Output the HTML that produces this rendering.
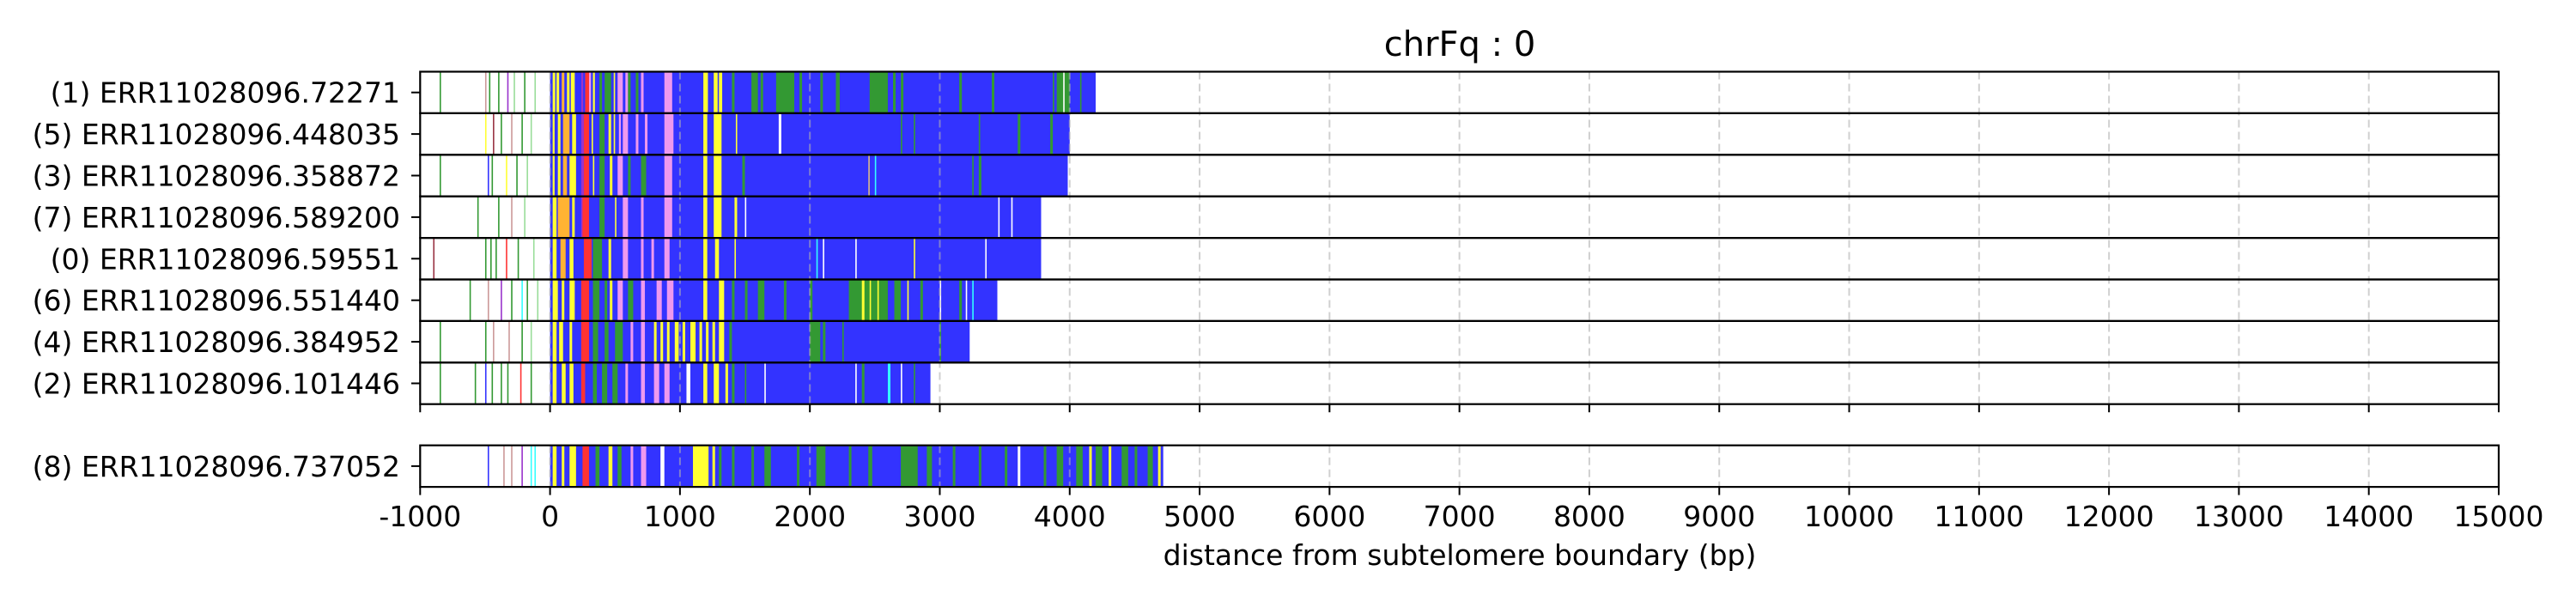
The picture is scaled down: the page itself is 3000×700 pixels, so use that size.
<!DOCTYPE html>
<html><head><meta charset="utf-8"><style>
html,body{margin:0;padding:0;background:#fff;}
svg{display:block;font-family:"DejaVu Sans","Liberation Sans",sans-serif;}
</style></head><body>
<svg id="chart" width="3000" height="700" viewBox="0 0 3000 700" xmlns="http://www.w3.org/2000/svg">
<text x="1700" y="65" font-size="40" text-anchor="middle">chrFq : 0</text>
<text x="1700" y="658" font-size="33" text-anchor="middle">distance from subtelomere boundary (bp)</text>
<g id="marks"></g>
</svg>
<script>
const rowLabels = ["(1) ERR11028096.72271","(5) ERR11028096.448035","(3) ERR11028096.358872","(7) ERR11028096.589200","(0) ERR11028096.59551","(6) ERR11028096.551440","(4) ERR11028096.384952","(2) ERR11028096.101446"];
const rowEnds = [4200,4000,3985,3780,3780,3443,3230,2928];
const soloLabel = "(8) ERR11028096.737052";
const soloEnd = 4720;
const xTicks = [-1000,0,1000,2000,3000,4000,5000,6000,7000,8000,9000,10000,11000,12000,13000,14000,15000];
const gridVals = [0,1000,2000,3000,4000,5000,6000,7000,8000,9000,10000,11000,12000,13000,14000];
const palette = {B:"#3333ff",G:"#339933",Y:"#ffff33",O:"#ffb333",R:"#ff3333",P:"#ee99ee",C:"#33ffff",M:"#9933cc",W:"#ffffff",L:"#99dd99",K:"#cc9999",T:"#ddbb88",D:"#993344"};
const pre1=[[-850,"G"],[-500,"K"],[-470,"G"],[-400,"G"],[-330,"M"],[-280,"L"],[-200,"G"],[-120,"L"]];
const pre5=[[-500,"Y"],[-440,"D"],[-380,"G"],[-300,"K"],[-220,"G"],[-150,"L"]];
const pre3=[[-850,"G"],[-480,"B"],[-450,"G"],[-340,"Y"],[-260,"G"],[-180,"L"]];
const pre7=[[-560,"G"],[-400,"G"],[-300,"K"],[-200,"L"]];
const pre0=[[-900,"D"],[-500,"G"],[-460,"G"],[-420,"G"],[-340,"R"],[-250,"G"],[-130,"L"]];
const pre6=[[-620,"G"],[-480,"K"],[-380,"M"],[-300,"G"],[-220,"C"],[-180,"G"],[-100,"L"]];
const pre4=[[-850,"G"],[-500,"G"],[-440,"K"],[-320,"K"],[-220,"G"],[-150,"L"]];
const pre2=[[-850,"G"],[-580,"G"],[-500,"B"],[-450,"G"],[-380,"G"],[-330,"G"],[-230,"R"],[-150,"G"]];
const pre8=[[-480,"B"],[-360,"K"],[-300,"K"],[-220,"M"],[-150,"C"],[-120,"C"]];
const seg1=[[20,40,"Y"],[50,70,"Y"],[90,110,"O"],[130,150,"Y"],[160,190,"Y"],[240,255,"M"],[270,300,"R"],[300,315,"P"],[330,345,"Y"],[380,400,"G"],[420,470,"G"],[490,500,"Y"],[520,560,"P"],[580,600,"P"],[600,620,"G"],[660,680,"G"],[700,720,"P"],[880,940,"P"],[1180,1215,"Y"],[1260,1290,"Y"],[1300,1325,"Y"],[1400,1420,"G"],[1550,1600,"G"],[1620,1640,"G"],[1740,1880,"G"],[1920,1940,"G"],[2080,2100,"G"],[2200,2230,"G"],[2460,2600,"G"],[2640,2660,"G"],[2700,2720,"G"],[3150,3170,"G"],[3400,3420,"G"],[3870,3880,"G"],[3900,4000,"G"],[3950,3960,"W"],[4080,4090,"G"]];
const seg5=[[20,35,"Y"],[60,80,"Y"],[100,150,"O"],[170,200,"Y"],[240,260,"M"],[260,300,"R"],[320,330,"Y"],[380,420,"G"],[450,470,"Y"],[490,500,"Y"],[530,545,"P"],[560,600,"P"],[660,680,"P"],[730,750,"P"],[880,950,"P"],[1180,1210,"Y"],[1260,1320,"Y"],[1430,1440,"Y"],[1760,1780,"W"],[2700,2710,"G"],[2800,2810,"G"],[3300,3310,"G"],[3600,3620,"G"],[3850,3870,"G"]];
const seg3=[[20,35,"Y"],[60,80,"Y"],[100,130,"O"],[150,200,"Y"],[240,260,"M"],[260,300,"R"],[330,340,"Y"],[380,420,"G"],[460,480,"Y"],[520,560,"P"],[600,620,"G"],[700,740,"G"],[880,940,"P"],[1180,1210,"Y"],[1260,1320,"Y"],[1480,1500,"G"],[2450,2460,"T"],[2500,2510,"C"],[3250,3260,"G"],[3300,3320,"G"]];
const seg7=[[20,50,"Y"],[60,150,"O"],[170,190,"Y"],[240,270,"M"],[250,300,"R"],[380,420,"G"],[500,510,"Y"],[560,600,"P"],[700,720,"P"],[880,940,"P"],[1180,1210,"Y"],[1260,1320,"Y"],[1420,1440,"Y"],[1500,1510,"W"],[3450,3460,"W"],[3550,3560,"W"]];
const seg0=[[20,50,"Y"],[80,120,"O"],[150,180,"Y"],[260,320,"R"],[330,400,"G"],[450,470,"Y"],[560,600,"P"],[700,720,"P"],[780,800,"P"],[880,920,"P"],[1180,1210,"Y"],[1270,1300,"Y"],[1420,1430,"Y"],[2050,2060,"C"],[2100,2110,"W"],[2350,2360,"W"],[2800,2810,"Y"],[3350,3360,"W"]];
const seg6=[[20,60,"Y"],[90,110,"Y"],[150,190,"Y"],[240,300,"R"],[330,380,"G"],[420,440,"G"],[460,480,"Y"],[520,560,"P"],[600,640,"G"],[700,730,"P"],[820,860,"P"],[900,950,"P"],[1180,1210,"Y"],[1300,1340,"Y"],[1400,1420,"G"],[1500,1520,"G"],[1600,1650,"G"],[1800,1820,"G"],[2000,2020,"G"],[2300,2600,"G"],[2400,2420,"Y"],[2460,2470,"Y"],[2520,2530,"Y"],[2650,2700,"G"],[2750,2760,"Y"],[2850,2870,"G"],[3000,3010,"W"],[3150,3170,"G"],[3200,3210,"W"],[3250,3260,"C"]];
const seg4=[[20,50,"Y"],[70,100,"Y"],[150,170,"Y"],[240,300,"R"],[330,370,"G"],[420,450,"G"],[500,560,"G"],[620,640,"P"],[700,730,"P"],[800,820,"Y"],[850,870,"Y"],[900,920,"Y"],[960,990,"Y"],[1020,1040,"Y"],[1080,1120,"Y"],[1150,1170,"Y"],[1200,1220,"Y"],[1250,1270,"Y"],[1300,1340,"Y"],[1380,1400,"G"],[2000,2080,"G"],[2100,2120,"G"],[2250,2260,"G"],[3000,3010,"G"]];
const seg2=[[20,50,"Y"],[90,120,"Y"],[150,180,"Y"],[240,270,"R"],[330,360,"G"],[400,440,"G"],[480,520,"G"],[580,600,"P"],[700,730,"P"],[800,840,"P"],[880,920,"P"],[1050,1080,"W"],[1180,1210,"Y"],[1260,1300,"Y"],[1350,1370,"Y"],[1400,1420,"G"],[1500,1510,"G"],[1650,1660,"W"],[2350,2360,"W"],[2400,2420,"G"],[2600,2620,"C"],[2700,2710,"W"],[2800,2810,"G"]];
const seg8=[[20,50,"Y"],[90,110,"Y"],[150,200,"Y"],[250,300,"R"],[350,380,"G"],[450,480,"Y"],[520,550,"G"],[620,640,"P"],[700,740,"P"],[850,880,"W"],[1100,1220,"Y"],[1250,1270,"Y"],[1300,1320,"G"],[1400,1420,"G"],[1550,1570,"G"],[1650,1700,"G"],[1900,1920,"G"],[2050,2120,"G"],[2300,2320,"G"],[2450,2480,"G"],[2700,2830,"G"],[2900,2940,"G"],[3100,3120,"G"],[3300,3320,"G"],[3500,3520,"G"],[3600,3620,"W"],[3800,3820,"G"],[3900,3950,"G"],[4050,4100,"G"],[4150,4170,"Y"],[4200,4250,"G"],[4300,4320,"Y"],[4400,4450,"G"],[4500,4520,"G"],[4600,4640,"G"],[4680,4700,"Y"]];
const rowPre=[pre1,pre5,pre3,pre7,pre0,pre6,pre4,pre2];
const rowSeg=[seg1,seg5,seg3,seg7,seg0,seg6,seg4,seg2];

const NS="http://www.w3.org/2000/svg";
const g=document.getElementById("marks");
const X0=489.3, X1=2910, XMIN=-1000, XMAX=15000;
const xScale=v=>X0+(v-XMIN)/(XMAX-XMIN)*(X1-X0);
const TOP=83.5, RH=48.4, SOLO_TOP=518.7, SOLO_H=48.4;
function el(tag,attrs,parent){const e=document.createElementNS(NS,tag);for(const k in attrs)e.setAttribute(k,attrs[k]);(parent||g).appendChild(e);return e;}

function drawRow(y,h,end,pre,seg,label,idx){
  const rg=el("g",{});
  
  
  pre.forEach(p=>{
    const r=el("rect",{x:xScale(p[0]),y:y,width:1.6,height:h,fill:palette[p[1]]},rg);
    
    
  });
  const base=el("rect",{x:xScale(0),y:y,width:xScale(end)-xScale(0),height:h,fill:palette.B},rg);
  
  
  seg.forEach(s=>{
    const w=Math.max(1.6,xScale(s[1])-xScale(s[0]));
    const r=el("rect",{x:xScale(s[0]),y:y,width:w,height:h,fill:palette[s[2]]},rg);
    
    
  });
  const t=el("text",{x:466,y:y+h/2+12,"font-size":33,"text-anchor":"end"});
  t.textContent=label;
  
  
  const tk=el("line",{x1:479,x2:X0,y1:y+h/2,y2:y+h/2,stroke:"#000","stroke-width":2});
  
  
}
rowLabels.forEach((lab,i)=>drawRow(TOP+i*RH,RH,rowEnds[i],rowPre[i],rowSeg[i],rowLabels[i],i));
drawRow(SOLO_TOP,SOLO_H,soloEnd,pre8,seg8,soloLabel,8);

gridVals.forEach(v=>{
  [[TOP,TOP+8*RH],[SOLO_TOP,SOLO_TOP+SOLO_H]].forEach(r=>{
    const l=el("line",{x1:xScale(v),x2:xScale(v),y1:r[0],y2:r[1],stroke:"#b0b0b0","stroke-opacity":0.6,"stroke-width":2,"stroke-dasharray":"9,5"});
    
    
  });
});
for(let i=0;i<8;i++){
  const f=el("rect",{x:X0,y:TOP+i*RH,width:X1-X0,height:RH,fill:"none",stroke:"#000","stroke-width":2.2});
  
  
}
const sf=el("rect",{x:X0,y:SOLO_TOP,width:X1-X0,height:SOLO_H,fill:"none",stroke:"#000","stroke-width":2.2});


const mainBottom=TOP+8*RH, soloBottom=SOLO_TOP+SOLO_H;
xTicks.forEach(v=>{
  const a=el("line",{x1:xScale(v),x2:xScale(v),y1:mainBottom,y2:mainBottom+9.5,stroke:"#000","stroke-width":2});
  
  
  const b=el("line",{x1:xScale(v),x2:xScale(v),y1:soloBottom,y2:soloBottom+9.5,stroke:"#000","stroke-width":2});
  
  
  const t=el("text",{x:xScale(v),y:613,"font-size":33,"text-anchor":"middle"});
  t.textContent=String(v);
  
  
});
</script>
</body></html>
